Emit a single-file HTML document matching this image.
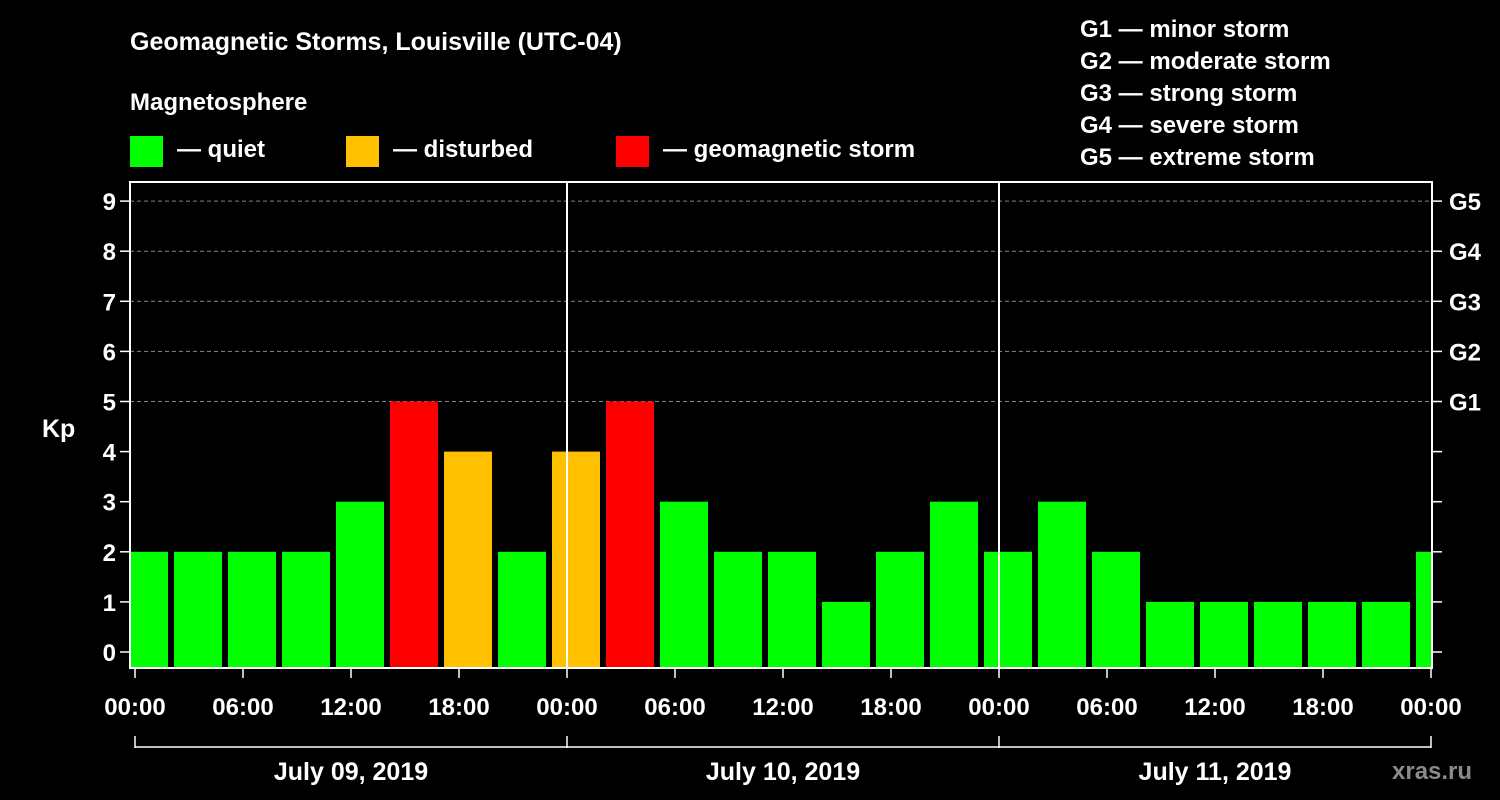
<!DOCTYPE html>
<html><head><meta charset="utf-8"><style>
html,body{margin:0;padding:0;background:#000;}
svg{display:block;}
text{font-family:"Liberation Sans",Arial,sans-serif;font-weight:bold;fill:#fff;}
</style></head><body>
<svg id="chart" width="1500" height="800" viewBox="0 0 1500 800">
<text x="130" y="50" font-size="25">Geomagnetic Storms, Louisville (UTC-04)</text>
<text x="130" y="110" font-size="24">Magnetosphere</text>
<rect x="130" y="136" width="33" height="31" fill="#00ff00"/>
<text x="177" y="157" font-size="24">— quiet</text>
<rect x="346" y="136" width="33" height="31" fill="#ffc000"/>
<text x="393" y="157" font-size="24">— disturbed</text>
<rect x="616" y="136" width="33" height="31" fill="#ff0000"/>
<text x="663" y="157" font-size="24">— geomagnetic storm</text>
<g font-size="24">
<text x="1080" y="37">G1 — minor storm</text>
<text x="1080" y="69">G2 — moderate storm</text>
<text x="1080" y="101">G3 — strong storm</text>
<text x="1080" y="133">G4 — severe storm</text>
<text x="1080" y="165">G5 — extreme storm</text>
</g>
<text x="42" y="437" font-size="25">Kp</text>
<text x="1392" y="779" font-size="24" fill="#888" style="fill:#8a8a8a">xras.ru</text>
<g id="g"></g>
</svg>
<script>
const kpValues=[2,2,2,2,3,5,4,2,4,5,3,2,2,1,2,3,2,3,2,1,1,1,1,1,2];
const yTicks=[0,1,2,3,4,5,6,7,8,9];
const gLabels=["G1","G2","G3","G4","G5"];
const gLevels=[5,6,7,8,9];
const xTickLabels=["00:00","06:00","12:00","18:00","00:00","06:00","12:00","18:00","00:00","06:00","12:00","18:00","00:00"];
const dayLabels=["July 09, 2019","July 10, 2019","July 11, 2019"];
const firstBarHour=-1; // local hour of first bar start (UTC 03:00 -> 23:00 local)

const L=130,R=1432,T=182,B=668,X0=135,PXH=18;
const y=v=>652-v*50.1;
const x=h=>X0+h*PXH;
const NS="http://www.w3.org/2000/svg";
const g=document.getElementById('g');
function mk(t,a,p){const e=document.createElementNS(NS,t);for(const k in a)e.setAttribute(k,a[k]);(p||g).appendChild(e);return e;}
const clip=mk('clipPath',{id:'pc'});mk('rect',{x:L,y:T,width:R-L,height:B-T},clip);
gLevels.forEach(v=>{const l=mk('line',{x1:L,x2:R,y1:y(v),y2:y(v),stroke:'#888','stroke-dasharray':'4,3','stroke-width':1});

});
const bars=mk('g',{'clip-path':'url(#pc)'});
kpValues.forEach((v,i)=>{const h0=firstBarHour+i*3;const c=v>=5?'#ff0000':(v>=4?'#ffc000':'#00ff00');
const r=mk('rect',{x:x(h0)+3,y:y(v),width:3*PXH-6,height:B-y(v),fill:c},bars);

});
mk('rect',{x:L,y:T,width:R-L,height:B-T,fill:'none',stroke:'#fff','stroke-width':2});
[24,48].forEach(h=>{const l=mk('line',{x1:x(h),x2:x(h),y1:T,y2:B,stroke:'#fff','stroke-width':2});

});
yTicks.forEach(v=>{mk('line',{x1:L-10,x2:L,y1:y(v),y2:y(v),stroke:'#fff','stroke-width':1.5});
mk('line',{x1:R,x2:R+10,y1:y(v),y2:y(v),stroke:'#fff','stroke-width':1.5});
const t=mk('text',{x:L-14,y:y(v)+9,'font-size':24,'text-anchor':'end'});t.textContent=v;

});
gLabels.forEach((s,i)=>{const t=mk('text',{x:1449,y:y(gLevels[i])+9,'font-size':24});t.textContent=s;

});
xTickLabels.forEach((s,i)=>{const xx=x(i*6);mk('line',{x1:xx,x2:xx,y1:B,y2:B+10,stroke:'#fff','stroke-width':1.5});
const t=mk('text',{x:xx,y:715,'font-size':24,'text-anchor':'middle'});t.textContent=s;

});
mk('line',{x1:x(0),x2:x(72),y1:747,y2:747,stroke:'#fff','stroke-width':1.5});
[0,24,48,72].forEach(h=>mk('line',{x1:x(h),x2:x(h),y1:736,y2:748,stroke:'#fff','stroke-width':1.5}));
dayLabels.forEach((s,i)=>{const t=mk('text',{x:x(i*24+12),y:780,'font-size':25,'text-anchor':'middle'});t.textContent=s;

});
</script>
</body></html>
